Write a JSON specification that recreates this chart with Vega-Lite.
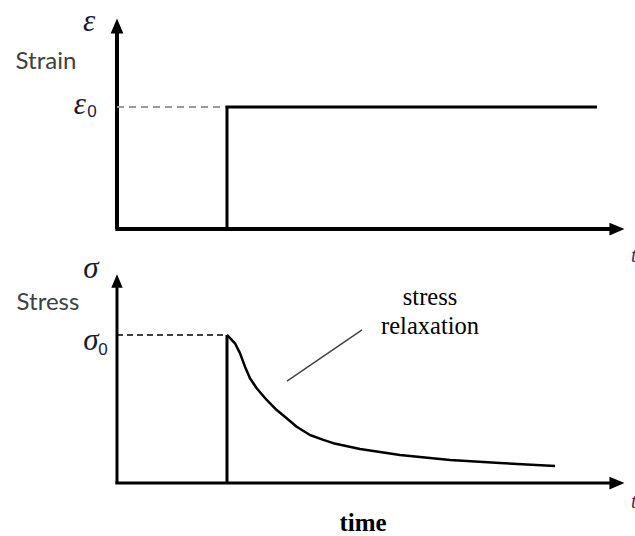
{
  "$schema": "https://vega.github.io/schema/vega-lite/v6.json",
  "padding": 0,
  "spacing": 0,
  "bounds": "flush",
  "background": "white",
  "config": {"view": {"stroke": null}},
  "vconcat": [
    {
      "width": 635,
      "height": 250,
      "encoding": {
        "x": {"field": "t", "type": "quantitative", "scale": {"domain": [-2.127, 9.418], "nice": false, "zero": false}, "axis": null},
        "y": {"field": "v", "type": "quantitative", "scale": {"domain": [-0.172, 1.877], "nice": false, "zero": false}, "axis": null}
      },
      "layer": [
        {
          "data": {"values": [{"t": 0, "v": 0, "t2": 0, "v2": 1.63}, {"t": -0.03, "v": 0, "t2": 9.0, "v2": 0}]},
          "mark": {"type": "rule", "color": "#000", "strokeWidth": 4},
          "encoding": {"x2": {"field": "t2"}, "y2": {"field": "v2"}}
        },
        {
          "data": {"values": [{"t": 0, "v": 1, "t2": 2, "v2": 1}]},
          "mark": {"type": "rule", "color": "#999", "strokeWidth": 2, "strokeDash": [7, 5]},
          "encoding": {"x2": {"field": "t2"}, "y2": {"field": "v2"}}
        },
        {
          "data": {"values": [{"t": 2, "v": 0, "o": 1}, {"t": 2, "v": 1, "o": 2}, {"t": 8.727, "v": 1, "o": 3}]},
          "mark": {"type": "line", "color": "#000", "strokeWidth": 3},
          "encoding": {"order": {"field": "o"}}
        },
        {
          "data": {"values": [{"t": 0, "v": 1.664}]},
          "mark": {"type": "point", "filled": true, "opacity": 1, "color": "#000", "shape": "M0,-1L-0.85,1L0.85,1Z", "size": 225}
        },
        {
          "data": {"values": [{"t": 9.09, "v": 0}]},
          "mark": {"type": "point", "filled": true, "opacity": 1, "color": "#000", "shape": "M1,0L-1,-0.85L-1,0.85Z", "size": 225}
        },
        {
          "data": {"values": [{"t": -0.509, "v": 1.697, "label": "ε"}, {"t": -0.673, "v": 1.016, "label": "ε"}]},
          "mark": {"type": "text", "font": "Liberation Serif", "fontStyle": "italic", "fontSize": 31, "color": "#1a1a2e", "align": "center", "baseline": "middle"},
          "encoding": {"text": {"field": "label"}}
        },
        {
          "data": {"values": [{"t": -0.455, "v": 0.959, "label": "0"}]},
          "mark": {"type": "text", "font": "Liberation Sans", "fontSize": 17, "color": "#1a1a3e", "align": "center", "baseline": "middle"},
          "encoding": {"text": {"field": "label"}}
        },
        {
          "data": {"values": [{"t": -1.291, "v": 1.369, "label": "Strain"}]},
          "mark": {"type": "text", "font": "Lato", "fontSize": 24, "color": "#404040", "align": "center", "baseline": "middle"},
          "encoding": {"text": {"field": "label"}}
        },
        {
          "data": {"values": [{"t": 9.345, "v": -0.3, "label": "t"}]},
          "mark": {"type": "text", "font": "Liberation Serif", "fontStyle": "italic", "fontSize": 20, "color": "#3a2a5a", "align": "left", "baseline": "bottom"},
          "encoding": {"text": {"field": "label"}}
        }
      ]
    },
    {
      "width": 635,
      "height": 286,
      "encoding": {
        "x": {"field": "t", "type": "quantitative", "scale": {"domain": [-2.127, 9.418], "nice": false, "zero": false}, "axis": null},
        "y": {"field": "v", "type": "quantitative", "scale": {"domain": [-0.358, 1.574], "nice": false, "zero": false}, "axis": null}
      },
      "layer": [
        {
          "data": {"values": [{"t": 0, "v": 0, "t2": 0, "v2": 1.338}, {"t": -0.03, "v": 0, "t2": 9.0, "v2": 0}]},
          "mark": {"type": "rule", "color": "#000", "strokeWidth": 3},
          "encoding": {"x2": {"field": "t2"}, "y2": {"field": "v2"}}
        },
        {
          "data": {"values": [{"t": 0, "v": 1, "t2": 2, "v2": 1}]},
          "mark": {"type": "rule", "color": "#000", "strokeWidth": 1.5, "strokeDash": [6, 4]},
          "encoding": {"x2": {"field": "t2"}, "y2": {"field": "v2"}}
        },
        {
          "data": {"values": [{"t": 2, "v": 0, "t2": 2, "v2": 1}]},
          "mark": {"type": "rule", "color": "#000", "strokeWidth": 3},
          "encoding": {"x2": {"field": "t2"}, "y2": {"field": "v2"}}
        },
        {
          "data": {"values": [
            {"t": 2.0, "v": 1.0},
            {"t": 2.145, "v": 0.944},
            {"t": 2.236, "v": 0.877},
            {"t": 2.327, "v": 0.786},
            {"t": 2.418, "v": 0.708},
            {"t": 2.54, "v": 0.64},
            {"t": 2.722, "v": 0.561},
            {"t": 2.904, "v": 0.493},
            {"t": 3.085, "v": 0.437},
            {"t": 3.267, "v": 0.38},
            {"t": 3.509, "v": 0.324},
            {"t": 3.751, "v": 0.291},
            {"t": 3.933, "v": 0.269},
            {"t": 4.418, "v": 0.23},
            {"t": 5.145, "v": 0.189},
            {"t": 6.055, "v": 0.155},
            {"t": 6.964, "v": 0.135},
            {"t": 7.964, "v": 0.115}
          ]},
          "mark": {"type": "line", "color": "#000", "strokeWidth": 2.5, "interpolate": "linear", "strokeJoin": "round"}
        },
        {
          "data": {"values": [{"t": 3.091, "v": 0.689, "t2": 4.455, "v2": 1.034}]},
          "mark": {"type": "rule", "color": "#444", "strokeWidth": 1.5},
          "encoding": {"x2": {"field": "t2"}, "y2": {"field": "v2"}}
        },
        {
          "data": {"values": [{"t": 0, "v": 1.365}]},
          "mark": {"type": "point", "filled": true, "opacity": 1, "color": "#000", "shape": "M0,-1L-0.85,1L0.85,1Z", "size": 180}
        },
        {
          "data": {"values": [{"t": 9.09, "v": 0}]},
          "mark": {"type": "point", "filled": true, "opacity": 1, "color": "#000", "shape": "M1,0L-1,-0.85L-1,0.85Z", "size": 225}
        },
        {
          "data": {"values": [{"t": -0.473, "v": 1.446, "label": "σ"}, {"t": -0.473, "v": 0.959, "label": "σ"}]},
          "mark": {"type": "text", "font": "Liberation Serif", "fontStyle": "italic", "fontSize": 31, "color": "#1a1a2e", "align": "center", "baseline": "middle"},
          "encoding": {"text": {"field": "label"}}
        },
        {
          "data": {"values": [{"t": -0.255, "v": 0.899, "label": "0"}]},
          "mark": {"type": "text", "font": "Liberation Sans", "fontSize": 17, "color": "#1a1a3e", "align": "center", "baseline": "middle"},
          "encoding": {"text": {"field": "label"}}
        },
        {
          "data": {"values": [{"t": -1.255, "v": 1.216, "label": "Stress"}]},
          "mark": {"type": "text", "font": "Lato", "fontSize": 24, "color": "#404040", "align": "center", "baseline": "middle"},
          "encoding": {"text": {"field": "label"}}
        },
        {
          "data": {"values": [{"t": 5.691, "v": 1.25, "label": "stress"}, {"t": 5.691, "v": 1.054, "label": "relaxation"}]},
          "mark": {"type": "text", "font": "Liberation Serif", "fontSize": 24.5, "color": "#000", "align": "center", "baseline": "middle"},
          "encoding": {"text": {"field": "label"}}
        },
        {
          "data": {"values": [{"t": 4.473, "v": -0.27, "label": "time"}]},
          "mark": {"type": "text", "font": "Liberation Serif", "fontWeight": "bold", "fontSize": 25, "color": "#000", "align": "center", "baseline": "middle"},
          "encoding": {"text": {"field": "label"}}
        },
        {
          "data": {"values": [{"t": 9.345, "v": -0.196, "label": "t"}]},
          "mark": {"type": "text", "font": "Liberation Serif", "fontStyle": "italic", "fontSize": 20, "color": "#3a2a5a", "align": "left", "baseline": "bottom"},
          "encoding": {"text": {"field": "label"}}
        }
      ]
    }
  ]
}
